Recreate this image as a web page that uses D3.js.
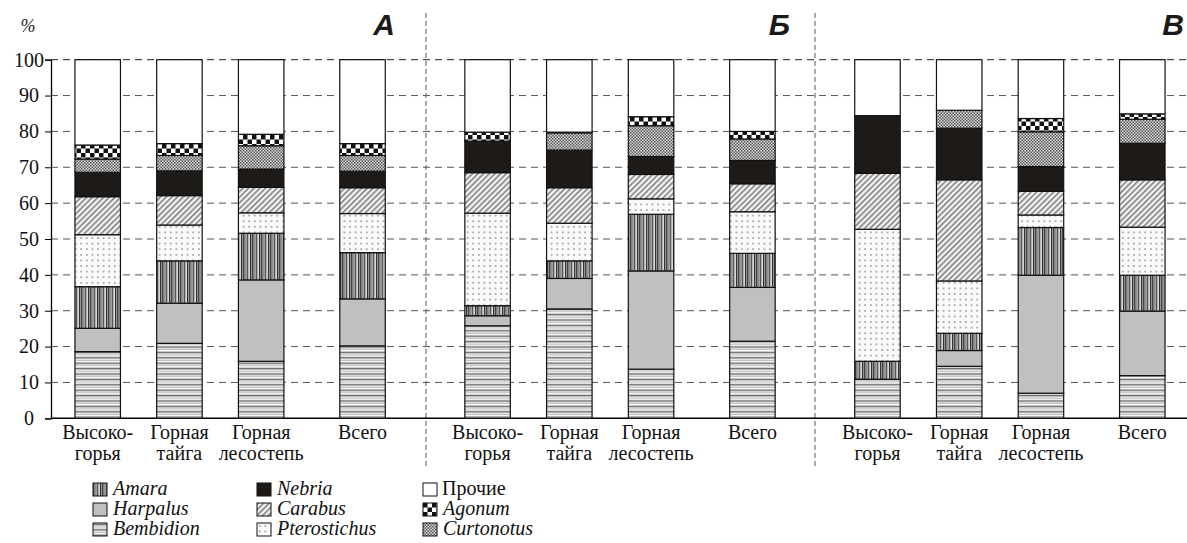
<!DOCTYPE html>
<html>
<head>
<meta charset="utf-8">
<script src="https://cdn.jsdelivr.net/npm/d3@7"></script>
<style>
  body { margin: 0; background: #fff; }
  svg { display: block; }
</style>
</head>
<body>
<div id="chart"></div>
<script>
// Dimensions
const width = 1187;
const height = 543;
const axisX = 51;
const serif = '"Liberation Serif", "Times New Roman", serif';
const sans = '"Liberation Sans", Arial, sans-serif';

// Panels and zones (categories)
const panels = ["А", "Б", "В"];
const zones = [["Высоко-", "горья"], ["Горная", "тайга"], ["Горная", "лесостепь"], ["Всего"]];
const yTicks = [0, 10, 20, 30, 40, 50, 60, 70, 80, 90, 100];

// Shares (%) per bar: А1..А4, Б1..Б4, В1..В4
const bembidion    = [18.6, 20.9, 15.9, 20.2, 25.8, 30.5, 13.7, 21.5, 10.9, 14.5, 7.0, 11.9];
const harpalus     = [6.5, 11.2, 22.7, 13.1, 2.8, 8.5, 27.4, 15.0, 0, 4.4, 32.9, 18.0];
const amara        = [11.6, 11.8, 13.0, 12.9, 2.8, 4.9, 15.8, 9.5, 5.0, 4.8, 13.3, 10.0];
const pterostichus = [14.5, 10.0, 5.7, 10.9, 25.8, 10.5, 4.3, 11.6, 36.8, 14.6, 3.5, 13.4];
const carabus      = [10.6, 8.2, 7.1, 7.2, 11.3, 9.9, 6.8, 7.8, 15.6, 28.2, 6.6, 13.2];
const nebria       = [6.8, 6.9, 5.1, 4.6, 8.8, 10.5, 5.0, 6.5, 16.1, 14.4, 6.9, 10.2];
const curtonotus   = [3.7, 4.3, 6.5, 4.4, 0, 4.8, 8.6, 6.0, 0, 5.0, 9.7, 6.7];
const agonum       = [3.9, 3.3, 3.2, 3.3, 2.5, 0.2, 2.5, 2.1, 0, 0, 3.7, 1.5];
const prochie      = [23.8, 23.4, 20.8, 23.4, 20.2, 20.2, 15.9, 20.0, 15.6, 14.1, 16.4, 15.1];

// Series, bottom to top
const keys = ["Bembidion", "Harpalus", "Amara", "Pterostichus", "Carabus", "Nebria", "Curtonotus", "Agonum", "Прочие"];
const values = [bembidion, harpalus, amara, pterostichus, carabus, nebria, curtonotus, agonum, prochie];

// Build table for d3.stack
const rows = d3.range(12).map(i => {
  const r = {panel: Math.floor(i / 4), zone: i % 4};
  keys.forEach((k, j) => { r[k] = values[j][i]; });
  return r;
});

const svg = d3.select("#chart").append("svg")
  .attr("width", width)
  .attr("height", height)
  .style("font-family", serif);

/*
  Patterns
*/
const defs = svg.append("defs");

// Bembidion - horizontal stripes
let p = defs.append("pattern").attr("id", "p-Bembidion").attr("patternUnits", "userSpaceOnUse")
  .attr("width", 6).attr("height", 5.4);
p.append("rect").attr("width", 6).attr("height", 5.4).attr("fill", "#fff");
p.append("rect").attr("y", 0.6).attr("width", 6).attr("height", 1.6).attr("fill", "#6a6a6a");
p.append("rect").attr("y", 3.3).attr("width", 6).attr("height", 1.1).attr("fill", "#b5b5b5");

// Amara - vertical stripes
p = defs.append("pattern").attr("id", "p-Amara").attr("patternUnits", "userSpaceOnUse")
  .attr("width", 9).attr("height", 6);
p.append("rect").attr("width", 9).attr("height", 6).attr("fill", "#bdbdbd");
[[0, 1.5, "#444"], [2.2, 1, "#888"], [3.8, 1.4, "#555"], [5.8, 0.8, "#e5e5e5"], [7, 1.3, "#333"]].forEach(s => {
  p.append("rect").attr("x", s[0]).attr("width", s[1]).attr("height", 6).attr("fill", s[2]);
});

// Pterostichus - dots
p = defs.append("pattern").attr("id", "p-Pterostichus").attr("patternUnits", "userSpaceOnUse")
  .attr("width", 5.6).attr("height", 5.6);
p.append("rect").attr("width", 5.6).attr("height", 5.6).attr("fill", "#fafafa");
p.append("circle").attr("cx", 2.8).attr("cy", 2.8).attr("r", 0.85).attr("fill", "#8a8a8a");

// Carabus - diagonal hatching
p = defs.append("pattern").attr("id", "p-Carabus").attr("patternUnits", "userSpaceOnUse")
  .attr("width", 4).attr("height", 4).attr("patternTransform", "rotate(45)");
p.append("rect").attr("width", 4).attr("height", 4).attr("fill", "#f2f2f2");
p.append("rect").attr("width", 1.5).attr("height", 4).attr("fill", "#7a7a7a");

// Curtonotus - fine checker
p = defs.append("pattern").attr("id", "p-Curtonotus").attr("patternUnits", "userSpaceOnUse")
  .attr("width", 3).attr("height", 3);
p.append("rect").attr("width", 3).attr("height", 3).attr("fill", "#d8d8d8");
p.append("rect").attr("width", 1.5).attr("height", 1.5).attr("fill", "#5a5a5a");
p.append("rect").attr("x", 1.5).attr("y", 1.5).attr("width", 1.5).attr("height", 1.5).attr("fill", "#5a5a5a");

// Agonum - checkerboard
p = defs.append("pattern").attr("id", "p-Agonum").attr("patternUnits", "userSpaceOnUse")
  .attr("width", 9).attr("height", 9);
p.append("rect").attr("width", 9).attr("height", 9).attr("fill", "#fff");
p.append("rect").attr("width", 4.5).attr("height", 4.5).attr("fill", "#111");
p.append("rect").attr("x", 4.5).attr("y", 4.5).attr("width", 4.5).attr("height", 4.5).attr("fill", "#111");

const fills = {
  "Bembidion": "url(#p-Bembidion)",
  "Harpalus": "#c0c0c0",
  "Amara": "url(#p-Amara)",
  "Pterostichus": "url(#p-Pterostichus)",
  "Carabus": "url(#p-Carabus)",
  "Nebria": "#1e1a18",
  "Curtonotus": "url(#p-Curtonotus)",
  "Agonum": "url(#p-Agonum)",
  "Прочие": "#fff"
};

/*
  Scales
*/
const slotOffsets = [0, 1, 2, 3.24];
const panelStep = 4.77;
const xScale = d3.scaleLinear()
  .domain([0, 2 * panelStep + slotOffsets[3]])
  .range([97.7, 1142.3]);
const xPos = d => xScale(d.panel * panelStep + slotOffsets[d.zone]);
const barWidth = 45.5;

const yScale = d3.scaleLinear()
  .domain([0, 100])
  .range([418.3, 59.7]);

/*
  Grid and axes
*/
svg.append("g")
  .selectAll("line")
  .data(yTicks.filter(t => t > 0))
  .join("line")
  .attr("x1", axisX).attr("x2", width)
  .attr("y1", d => yScale(d)).attr("y2", d => yScale(d))
  .attr("stroke", d => d === 100 ? "#222" : "#555")
  .attr("stroke-width", 1)
  .attr("stroke-dasharray", "7,5");

// Panel separators
svg.append("g")
  .selectAll("line")
  .data([426, 815])
  .join("line")
  .attr("x1", d => d).attr("x2", d => d)
  .attr("y1", 13).attr("y2", 466)
  .attr("stroke", "#555")
  .attr("stroke-dasharray", "5,3");

const yAxis = svg.append("g")
  .attr("transform", `translate(${axisX},0)`)
  .call(d3.axisLeft(yScale).tickValues(yTicks).tickSize(6).tickPadding(0));
yAxis.attr("font-family", null).attr("font-size", null);
yAxis.select(".domain").attr("stroke", "#000").attr("stroke-width", 1.3);
yAxis.selectAll(".tick line").attr("stroke", "#000");
yAxis.selectAll(".tick text")
  .style("font-family", serif)
  .style("font-size", "20px")
  .attr("text-anchor", "middle")
  .attr("x", -22)
  .attr("fill", "#111");

// x axis line
svg.append("line")
  .attr("x1", axisX).attr("x2", width)
  .attr("y1", yScale(0)).attr("y2", yScale(0))
  .attr("stroke", "#000").attr("stroke-width", 1.5);

/*
  Bars
*/
const stacked = d3.stack().keys(keys)(rows);

svg.append("g")
  .selectAll("g")
  .data(stacked)
  .join("g")
  .attr("fill", d => fills[d.key])
  .selectAll("rect")
  .data(d => d.filter(s => s[1] - s[0] > 0))
  .join("rect")
  .attr("x", d => xPos(d.data) - barWidth / 2)
  .attr("y", d => yScale(d[1]))
  .attr("width", barWidth)
  .attr("height", d => yScale(d[0]) - yScale(d[1]))
  .attr("stroke", "#111")
  .attr("stroke-width", 1.2);

/*
  Labels
*/
const catLabels = svg.append("g")
  .attr("fill", "#111")
  .attr("text-anchor", "middle")
  .selectAll("text")
  .data(rows)
  .join("text")
  .style("font-family", serif)
  .style("font-size", "20px")
  .attr("x", d => xPos(d))
  .attr("y", 439);
catLabels.selectAll("tspan")
  .data(d => zones[d.zone])
  .join("tspan")
  .attr("x", function() { return d3.select(this.parentNode).attr("x"); })
  .attr("dy", (d, i) => i === 0 ? 0 : 21)
  .text(d => d);

// Panel letters
svg.append("g")
  .selectAll("text")
  .data(panels)
  .join("text")
  .style("font-family", sans)
  .attr("x", (d, i) => [395, 790, 1184][i])
  .attr("y", 35)
  .attr("text-anchor", "end")
  .attr("font-weight", "bold")
  .attr("font-style", "italic")
  .attr("font-size", 30)
  .attr("fill", "#1a1a1a")
  .text(d => d);

// Percent sign
svg.append("text")
  .style("font-family", serif)
  .attr("x", 28).attr("y", 32)
  .attr("text-anchor", "middle")
  .attr("font-style", "italic")
  .attr("font-size", 18)
  .attr("fill", "#222")
  .text("%");

/*
  Legend
*/
const legendOrder = ["Amara", "Harpalus", "Bembidion", "Nebria", "Carabus", "Pterostichus", "Прочие", "Agonum", "Curtonotus"];
const legendCols = [93, 257, 423];
const legend = svg.append("g")
  .selectAll("g")
  .data(legendOrder)
  .join("g")
  .attr("transform", (d, i) => `translate(${legendCols[Math.floor(i / 3)]},${483 + (i % 3) * 20})`);
legend.append("rect")
  .attr("width", 14).attr("height", 13)
  .attr("fill", d => fills[d])
  .attr("stroke", "#111").attr("stroke-width", 1);
legend.append("text")
  .style("font-family", serif)
  .attr("x", d => d === "Прочие" ? 19 : 20)
  .attr("y", 12)
  .attr("font-style", d => d === "Прочие" ? "normal" : "italic")
  .attr("font-size", 20)
  .attr("fill", "#111")
  .text(d => d);
</script>
</body>
</html>
